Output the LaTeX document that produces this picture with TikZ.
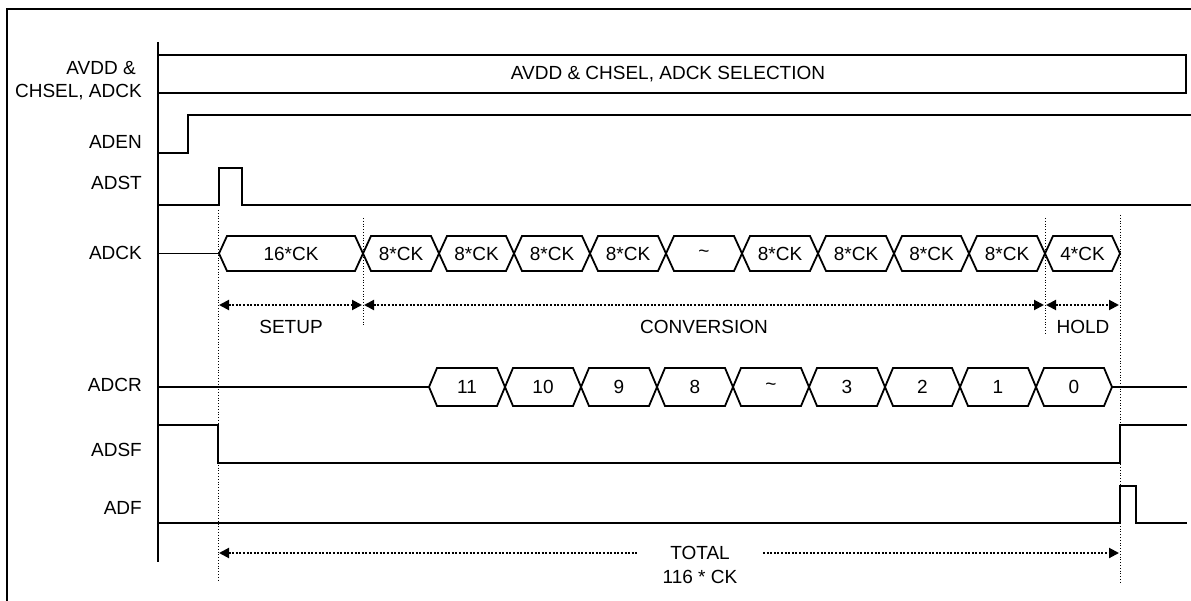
\documentclass[tikz,border=0pt]{standalone}
\usepackage{fontspec}
\setmainfont{Liberation Sans}
\usetikzlibrary{arrows.meta}
\tikzset{
  sig/.style={line width=1.8pt, line join=miter},
  frame/.style={line width=1.5pt},
  guide/.style={line width=0.8pt, dotted},
  dotline/.style={line width=2pt, dash pattern=on 2pt off 1.6pt},
  dar/.style={dotline, {Triangle[length=10pt,width=10pt]}-{Triangle[length=10pt,width=10pt]}},
  darl/.style={dotline, {Triangle[length=10pt,width=10pt]}-},
  darr/.style={dotline, -{Triangle[length=10pt,width=10pt]}},
  txt/.style={inner sep=0pt, anchor=center},
  lbl/.style={inner sep=0pt, anchor=east},
}
\begin{document}
\begin{tikzpicture}[x=1pt,y=-1pt, font=\fontsize{19}{21}\selectfont]
\useasboundingbox (0,0) rectangle (1191,601);
% frame
\draw[frame] (7,601) -- (7,9) -- (1191,9);
% axis
\draw[sig] (158,42) -- (158,562);
% labels
\node[lbl] (lavdd) at (136,68) {AVDD \&};
\node[lbl] (lchsel) at (142,92) {CHSEL, ADCK};
\node[lbl] (laden) at (142,142) {ADEN};
\node[lbl] (ladst) at (142,183) {ADST};
\node[lbl] (ladck) at (142,253) {ADCK};
\node[lbl] (ladcr) at (142,385) {ADCR};
\node[lbl] (ladsf) at (142,450) {ADSF};
\node[lbl] (ladf) at (142,508) {ADF};
% AVDD box
\draw[sig] (158,55) rectangle (1186,93);
\node[txt] (sel) at (668,74) {AVDD \& CHSEL, ADCK SELECTION};
% ADEN
\draw[sig] (158,153) -- (188,153) -- (188,115) -- (1191,115);
% ADST
\draw[sig] (158,205) -- (219,205) -- (219,168) -- (242,168) -- (242,205) -- (1191,205);
% guides
\draw[guide] (218,210) -- (218,582);
\draw[guide] (363,218) -- (363,326);
\draw[guide] (1045,218) -- (1045,334);
\draw[guide] (1120,215) -- (1120,582);
% ADCK
\draw[sig] (158,253.5) -- (219,253.5);
\foreach \a/\b/\t [count=\i] in {219/363/16*CK, 363/439/8*CK, 439/514/8*CK, 514/590/8*CK, 590/666/8*CK, 666/742/{\textasciitilde}, 742/818/8*CK, 818/894/8*CK, 894/969/8*CK, 969/1045/8*CK, 1045/1120/4*CK}{
  \draw[sig] (\a,253.5) -- (\a+8,236) -- (\b-8,236) -- (\b,253.5) -- (\b-8,271) -- (\a+8,271) -- cycle;
  \node[txt] (ck\i) at ({(\a+\b)/2},253.5) {\t};
}
% phase arrows
\coordinate (s0) at (219,305); \coordinate (s1) at (362,305);
\coordinate (c0) at (364,305); \coordinate (c1) at (1044,305);
\coordinate (h0) at (1046,305); \coordinate (h1) at (1119,305);
\draw[dar] (s0) -- (s1);
\draw[dar] (c0) -- (c1);
\draw[dar] (h0) -- (h1);
\node[txt] (setup) at (291,327) {SETUP};
\node[txt] (conv) at (704,327) {CONVERSION};
\node[txt] (hold) at (1083,327) {HOLD};
% ADCR
\draw[sig] (158,387) -- (429,387);
\foreach \a/\b/\t [count=\i] in {429/505/11, 505/581/10, 581/657/9, 657/733/8, 733/809/{\textasciitilde}, 809/885/3, 885/960/2, 960/1036/1, 1036/1112/0}{
  \draw[sig] (\a,387) -- (\a+8,368) -- (\b-8,368) -- (\b,387) -- (\b-8,406) -- (\a+8,406) -- cycle;
  \node[txt] (cr\i) at ({(\a+\b)/2},387) {\t};
}
\draw[sig] (1112,387) -- (1187,387);
% ADSF
\draw[sig] (158,425) -- (218,425) -- (218,463) -- (1120,463) -- (1120,425) -- (1187,425);
% ADF
\draw[sig] (158,523) -- (1120,523) -- (1120,486) -- (1136,486) -- (1136,523) -- (1187,523);
% total
\node[txt] (total) at (700,553) {TOTAL};
\node[txt] (tck) at (700,577) {116 * CK};
\coordinate (t0) at (219,553); \coordinate (t1) at (638,553);
\coordinate (t2) at (763,553); \coordinate (t3) at (1119,553);
\draw[darl] (t0) -- (t1);
\draw[darr] (t2) -- (t3);
\end{tikzpicture}
\end{document}
